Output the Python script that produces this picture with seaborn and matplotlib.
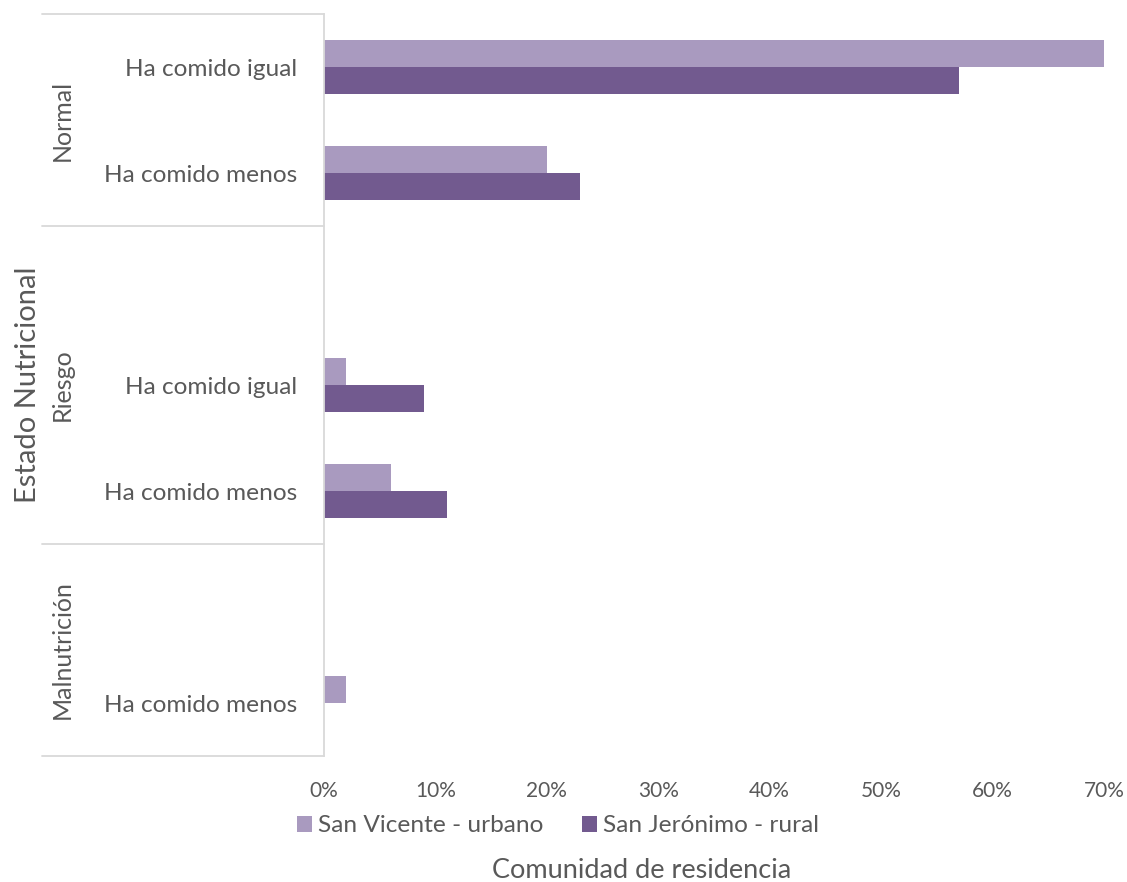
import numpy as np
import pandas as pd
import matplotlib
matplotlib.use("Agg")
import matplotlib.pyplot as plt
import matplotlib.transforms as mtransforms
from matplotlib.ticker import PercentFormatter
from matplotlib.patches import Patch
import seaborn as sns

# ---- data ----
groups = ["Normal", "Normal", "Riesgo", "Riesgo", "Riesgo", "Malnutrición", "Malnutrición"]
sub_labels = ["Ha comido igual", "Ha comido menos", "", "Ha comido igual", "Ha comido menos", "", "Ha comido menos"]
urbano = [70, 20, np.nan, 2, 6, np.nan, 2]
rural = [57, 23, np.nan, 9, 11, np.nan, 0]
series_names = ["San Vicente - urbano", "San Jerónimo - rural"]
group_names = ["Normal", "Riesgo", "Malnutrición"]
x_ticks = [0, 10, 20, 30, 40, 50, 60, 70]

colors = ["#A99ABF", "#725A8F"]
text_color = "#595959"
line_color = "#D9D9D9"

sns.set_style("white")
plt.rcParams["font.family"] = ["Lato", "DejaVu Sans"]

keys = [f"{i}|{g}|{s}" for i, (g, s) in enumerate(zip(groups, sub_labels))]
rows = []
for k, u, r in zip(keys, urbano, rural):
    rows.append({"cat": k, "serie": series_names[0], "val": u})
    rows.append({"cat": k, "serie": series_names[1], "val": r})
df = pd.DataFrame(rows)

W, H = 1127, 882
fig = plt.figure(figsize=(W / 100, H / 100), dpi=100)
ax = fig.add_axes([324 / W, 1 - 756 / H, (1104 - 324) / W, (756 - 14) / H])

sns.barplot(data=df.dropna(), y="cat", x="val", hue="serie", order=keys,
            hue_order=series_names, palette=colors, width=0.51, orient="h",
            ax=ax, legend=False, saturation=1, linewidth=0, edgecolor="none")

ax.set_xlim(0, 70)
ax.set_ylim(len(keys) - 0.5, -0.5)
ax.set_xticks(x_ticks)
ax.xaxis.set_major_formatter(PercentFormatter(100, decimals=0))
ax.tick_params(axis="x", length=0, pad=18, labelsize=15, labelcolor=text_color)
ax.set_yticks(range(len(keys)))
ax.set_yticklabels(sub_labels)
ax.tick_params(axis="y", length=0, pad=19, labelsize=17.6, labelcolor=text_color)
ax.set_xlabel("")
ax.set_ylabel("")
for s in ["top", "right", "bottom"]:
    ax.spines[s].set_visible(False)
ax.spines["left"].set_color(line_color)
ax.spines["left"].set_linewidth(1.3)

# group separators and labels
trans = mtransforms.blended_transform_factory(ax.transAxes, ax.transData)
x_left = -(324 - 42) / (1104 - 324)
bounds = [-0.5]
spans = []
for gname in group_names:
    idx = [i for i, g in enumerate(groups) if g == gname]
    spans.append((min(idx) - 0.5, max(idx) + 0.5))
    bounds.append(max(idx) + 0.5)
for b in bounds:
    ax.plot([x_left, 0], [b, b], transform=trans, color=line_color, lw=1.3, clip_on=False)
x_grp = -(324 - 62) / (1104 - 324)
for gname, (a, b) in zip(group_names, spans):
    ax.text(x_grp, (a + b) / 2, gname, transform=trans, rotation=90, ha="center", va="center",
            fontsize=18, color=text_color)

fig.text(28 / W, 1 - 385 / H, "Estado Nutricional", rotation=90, ha="center", va="center",
         fontsize=21, color=text_color)
fig.text(642 / W, 1 - 870 / H, "Comunidad de residencia", ha="center", va="center",
         fontsize=19.5, color=text_color)

handles = [Patch(facecolor=c, edgecolor="none") for c in colors]
fig.legend(handles, series_names, loc="center", bbox_to_anchor=(558 / W, 1 - 826 / H), ncol=2,
           frameon=False, fontsize=17.6, labelcolor=text_color, handlelength=0.6, handleheight=0.6,
           handletextpad=0.25, columnspacing=1.6)

fig.savefig("out.png", dpi=100)
